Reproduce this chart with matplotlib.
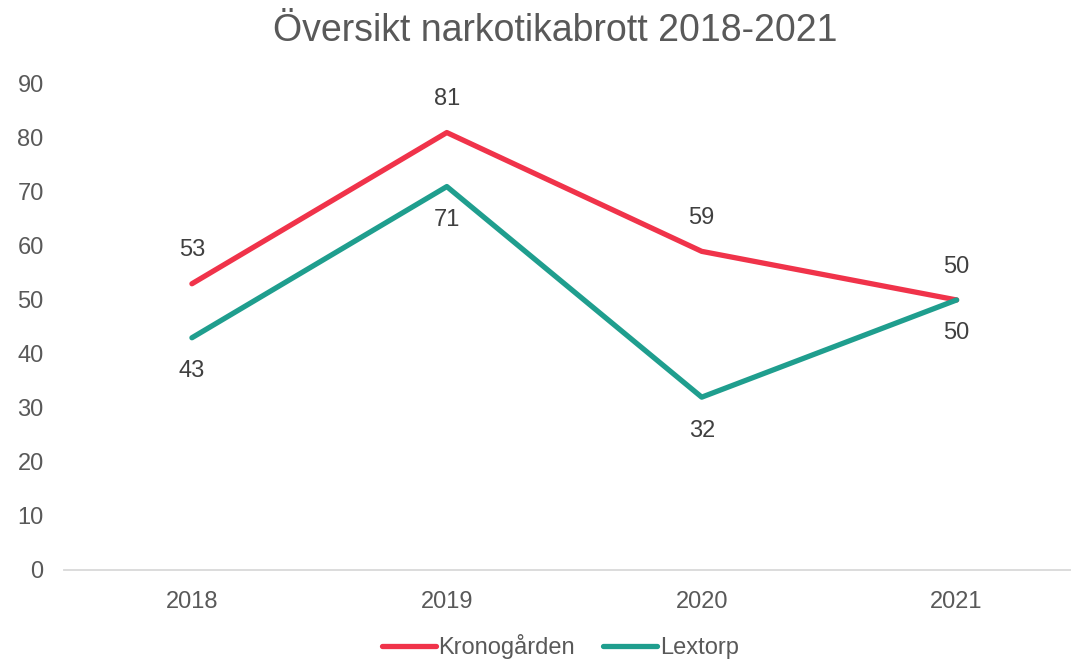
import matplotlib
matplotlib.use("Agg")
import matplotlib.pyplot as plt

plt.rcParams["font.family"] = ["Liberation Sans", "DejaVu Sans"]

years = ["2018", "2019", "2020", "2021"]
kronogarden = [53, 81, 59, 50]
lextorp = [43, 71, 32, 50]

red = "#F0334A"
teal = "#1F9E8E"
grey = "#595959"

fig = plt.figure(figsize=(10.71, 6.6), dpi=100)
ax = fig.add_axes([0.0602, 0.1364, 0.952, 0.7364])

x = range(len(years))
ax.plot(x, kronogarden, color=red, lw=3.8, solid_capstyle="round", label="Kronogården")
ax.plot(x, lextorp, color=teal, lw=3.8, solid_capstyle="round", label="Lextorp")

# data labels: Kronogården above, Lextorp below
for i, v in enumerate(kronogarden):
    ax.annotate(str(v), (i, v), xytext=(0, 24), textcoords="offset points",
                ha="center", va="center", fontsize=17, color="#404040")
for i, v in enumerate(lextorp):
    ax.annotate(str(v), (i, v), xytext=(0, -24), textcoords="offset points",
                ha="center", va="center", fontsize=17, color="#404040")

ax.set_xlim(-0.5, 3.5)
ax.set_ylim(0, 90)
ax.set_xticks(list(x))
ax.set_xticklabels(years)
ax.set_yticks(range(0, 91, 10))
ax.tick_params(axis="both", length=0, labelsize=17, labelcolor=grey)
ax.tick_params(axis="x", pad=15)
ax.tick_params(axis="y", pad=15)
for s in ["top", "right", "left"]:
    ax.spines[s].set_visible(False)
ax.spines["bottom"].set_color("#D9D9D9")
ax.spines["bottom"].set_linewidth(1.3)

fig.text(0.518, 0.953, "Översikt narkotikabrott 2018-2021", ha="center", va="center",
         fontsize=27, color=grey)

fig.legend(loc="center", bbox_to_anchor=(0.523, 0.02), ncol=2, frameon=False,
           fontsize=17, labelcolor=grey, handlelength=2.3, handletextpad=0.1,
           columnspacing=1.2)

fig.savefig("out.png", dpi=100)
